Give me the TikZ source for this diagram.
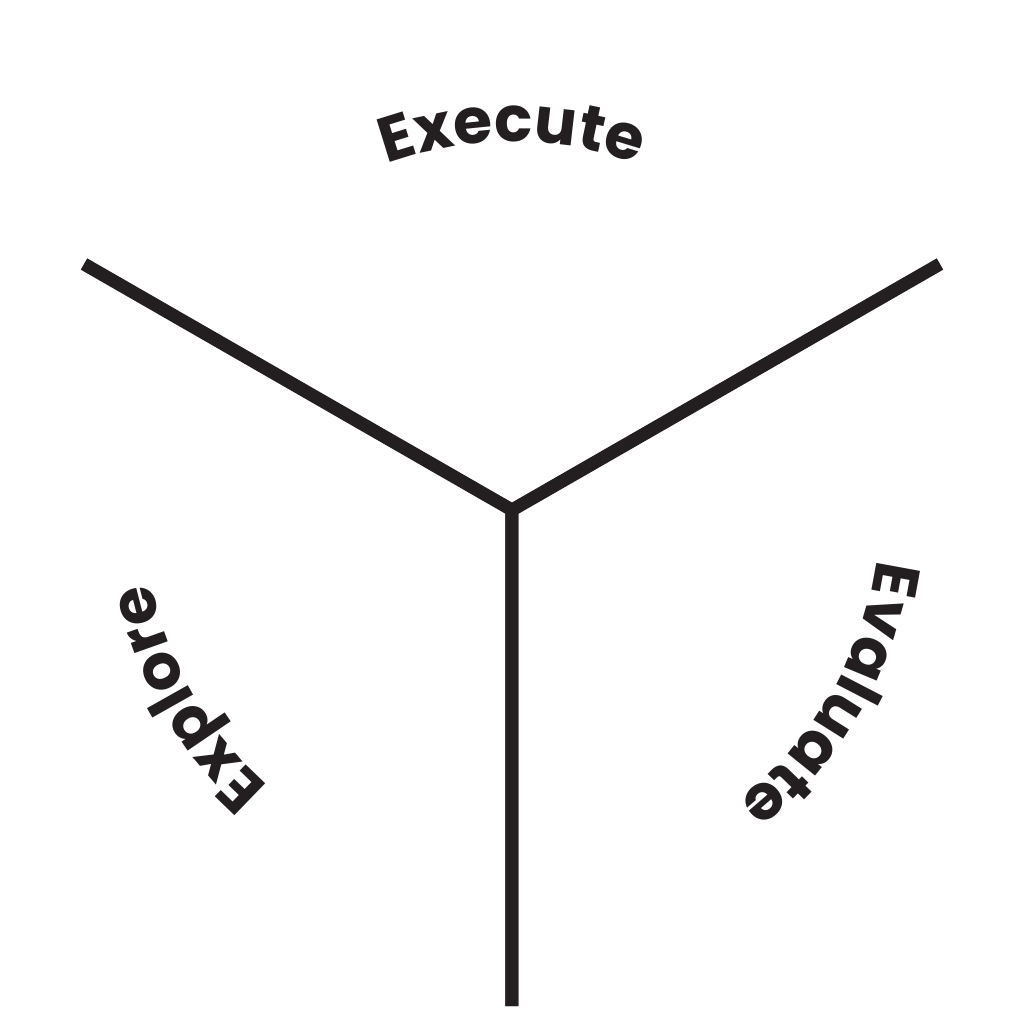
\documentclass[tikz,border=0pt]{standalone}
\usepackage{fontspec}
\newfontfamily\lblfont{Poppins}
\usetikzlibrary{decorations.text}
\definecolor{ink}{HTML}{231F20}
\tikzset{
  arm/.style={draw=ink, line width=3.7pt, line join=miter, line cap=butt},
}
\newcommand{\arclabel}[2]{%
  \path[decorate, decoration={text along path, text align=center,
     text color=ink,
     text={|\lblfont\bfseries\fontsize{18}{20}\selectfont|#2}}]
     (c) ++({#1+30}:3.68) arc[start angle={#1+30}, end angle={#1-30}, radius=3.68];}
\begin{document}
\begin{tikzpicture}
\useasboundingbox (-5.12,-5.14) rectangle (5.12,5.10);
\coordinate (c) at (0,0);
\coordinate (ul) at (-4.28,2.46);
\coordinate (ur) at (4.28,2.46);
\coordinate (bt) at (0,-4.96);
\path[arm] (ul) -- (c) -- (bt);
\path[arm] (ur) -- (c) -- (bt);
\arclabel{90}{Execute}
\arclabel{210}{Explore}
\arclabel{330}{Evaluate}
\end{tikzpicture}
\end{document}
